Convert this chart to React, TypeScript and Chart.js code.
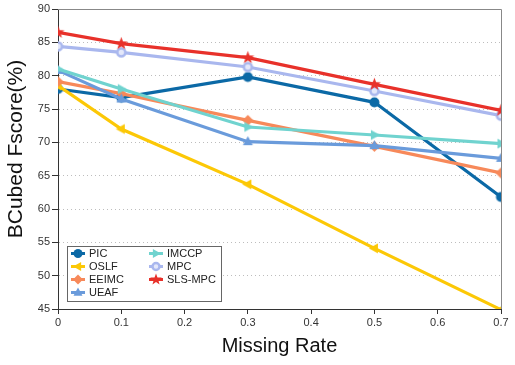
import React, { useEffect, useRef } from "react";
import { Chart, registerables } from "chart.js";

Chart.register(...registerables);

const missingRates = [0, 0.1, 0.3, 0.5, 0.7];
const seriesNames = ["PIC", "OSLF", "EEIMC", "UEAF", "IMCCP", "MPC", "SLS-MPC"];
const picValues = [78.0, 76.7, 79.8, 76.0, 61.8];
const oslfValues = [78.5, 72.0, 63.7, 54.1, 44.9];
const eeimcValues = [79.1, 77.3, 73.3, 69.4, 65.4];
const ueafValues = [80.8, 76.5, 70.1, 69.5, 67.6];
const imccpValues = [81.0, 78.0, 72.3, 71.1, 69.8];
const mpcValues = [84.4, 83.5, 81.3, 77.7, 74.0];
const slsMpcValues = [86.5, 84.8, 82.7, 78.7, 74.8];
const xTicks = [0, 0.1, 0.2, 0.3, 0.4, 0.5, 0.6, 0.7];
const yTicks = [45, 50, 55, 60, 65, 70, 75, 80, 85, 90];
const xTitle = "Missing Rate";
const yTitle = "BCubed Fscore(%)";

const allValues = [picValues, oslfValues, eeimcValues, ueafValues, imccpValues, mpcValues, slsMpcValues];
const colors = ["#0b69a6", "#fcc806", "#f7895a", "#6a9bdb", "#70d3cf", "#a9b7ee", "#e8312a"];
const shapes = ["circle", "triLeft", "diamond", "triUp", "triRight", "ring", "star"];

const FONT = "'Liberation Sans', Arial, Helvetica, sans-serif";

function drawMarker(ctx: CanvasRenderingContext2D, shape: string, x: number, y: number, r: number, color: string) {
  ctx.save();
  ctx.fillStyle = color;
  ctx.strokeStyle = color;
  ctx.beginPath();
  if (shape === "circle") {
    ctx.arc(x, y, r, 0, Math.PI * 2);
    ctx.fill();
  } else if (shape === "ring") {
    ctx.arc(x, y, r - 1, 0, Math.PI * 2);
    ctx.fillStyle = "#e4e8fa";
    ctx.fill();
    ctx.lineWidth = 2.5;
    ctx.stroke();
  } else if (shape === "diamond") {
    ctx.moveTo(x, y - r * 1.1);
    ctx.lineTo(x + r * 1.1, y);
    ctx.lineTo(x, y + r * 1.1);
    ctx.lineTo(x - r * 1.1, y);
    ctx.closePath();
    ctx.fill();
  } else if (shape === "triUp") {
    ctx.moveTo(x, y - r * 1.1);
    ctx.lineTo(x + r, y + r * 0.7);
    ctx.lineTo(x - r, y + r * 0.7);
    ctx.closePath();
    ctx.fill();
  } else if (shape === "triLeft") {
    ctx.moveTo(x - r * 1.1, y);
    ctx.lineTo(x + r * 0.7, y - r);
    ctx.lineTo(x + r * 0.7, y + r);
    ctx.closePath();
    ctx.fill();
  } else if (shape === "triRight") {
    ctx.moveTo(x + r * 1.1, y);
    ctx.lineTo(x - r * 0.7, y - r);
    ctx.lineTo(x - r * 0.7, y + r);
    ctx.closePath();
    ctx.fill();
  } else if (shape === "star") {
    const outer = r * 1.35;
    const inner = r * 0.55;
    for (let i = 0; i < 10; i++) {
      const rad = i % 2 === 0 ? outer : inner;
      const a = -Math.PI / 2 + (i * Math.PI) / 5;
      const px = x + rad * Math.cos(a);
      const py = y + rad * Math.sin(a);
      if (i === 0) ctx.moveTo(px, py);
      else ctx.lineTo(px, py);
    }
    ctx.closePath();
    ctx.fill();
  }
  ctx.restore();
}

function makeMarkerCanvas(shape: string, color: string, r: number): HTMLCanvasElement {
  const size = Math.ceil(r * 3) + 2;
  const c = document.createElement("canvas");
  c.width = size;
  c.height = size;
  const ctx = c.getContext("2d")!;
  drawMarker(ctx, shape, size / 2, size / 2, r, color);
  return c;
}

const frameAndLegend = {
  id: "frameAndLegend",
  afterDatasetsDraw(chart: any) {
    const { ctx, chartArea } = chart;
    ctx.save();
    ctx.strokeStyle = "#888";
    ctx.lineWidth = 1;
    ctx.beginPath();
    ctx.moveTo(chartArea.left, chartArea.top + 0.5);
    ctx.lineTo(chartArea.right + 0.5, chartArea.top + 0.5);
    ctx.lineTo(chartArea.right + 0.5, chartArea.bottom);
    ctx.stroke();

    // axis titles
    ctx.fillStyle = "#111";
    ctx.textAlign = "center";
    ctx.textBaseline = "middle";
    ctx.font = `20px ${FONT}`;
    ctx.fillText(xTitle, (chartArea.left + chartArea.right) / 2, 346);
    ctx.save();
    ctx.translate(16, 149);
    ctx.rotate(-Math.PI / 2);
    ctx.font = `21px ${FONT}`;
    ctx.fillText(yTitle, 0, 0);
    ctx.restore();

    // legend box
    const bx = 67.5, by = 246.5, bw = 154, bh = 55;
    ctx.fillStyle = "#fff";
    ctx.fillRect(bx, by, bw, bh);
    ctx.strokeStyle = "#666";
    ctx.strokeRect(bx, by, bw, bh);
    ctx.font = `11px ${FONT}`;
    ctx.textBaseline = "middle";
    ctx.textAlign = "left";
    const rowsY = [253.5, 266.5, 279.5, 292.5];
    seriesNames.forEach((name, i) => {
      const col = i < 4 ? 0 : 1;
      const row = i < 4 ? i : i - 4;
      const mx = col === 0 ? 78 : 156;
      const my = rowsY[row];
      ctx.strokeStyle = colors[i];
      ctx.lineWidth = 3;
      ctx.beginPath();
      ctx.moveTo(mx - 7, my);
      ctx.lineTo(mx + 7, my);
      ctx.stroke();
      drawMarker(ctx, shapes[i], mx, my, 4.5, colors[i]);
      ctx.fillStyle = "#222";
      ctx.fillText(name, mx + 11, my + 0.5);
    });
    ctx.restore();
  },
};

export default function App() {
  const canvasRef = useRef<HTMLCanvasElement | null>(null);

  useEffect(() => {
    if (!canvasRef.current) return;
    const datasets = seriesNames.map((name, i) => ({
      label: name,
      data: missingRates.map((x, j) => ({ x, y: allValues[i][j] })),
      borderColor: colors[i],
      backgroundColor: colors[i],
      borderWidth: 3.2,
      pointStyle: makeMarkerCanvas(shapes[i], colors[i], 5),
      pointRadius: 5,
      order: 6 - i,
      tension: 0,
    }));
    const chart = new Chart(canvasRef.current, {
      type: "line",
      data: { datasets },
      plugins: [frameAndLegend],
      options: {
        animation: false,
        responsive: false,
        devicePixelRatio: 1,
        layout: { padding: { top: 9, right: 14, left: 0, bottom: 0 } },
        plugins: { legend: { display: false }, tooltip: { enabled: false } },
        scales: {
          x: {
            type: "linear",
            min: 0,
            max: 0.7,
            afterFit: (s: any) => {
              s.height = 56;
            },
            afterBuildTicks: (s: any) => {
              s.ticks = xTicks.map((v) => ({ value: v }));
            },
            ticks: {
              color: "#333",
              font: { size: 11, family: FONT },
              padding: 2,
              maxRotation: 0,
              callback: (v: any) => (Number(v) === 0 ? "0" : Number(v).toFixed(1)),
            },
            grid: { drawOnChartArea: false, tickLength: 5, tickColor: "#333", color: "#333" },
            border: { color: "#333", width: 1 },
          },
          y: {
            min: 45,
            max: 90,
            afterFit: (s: any) => {
              s.width = 58;
            },
            afterBuildTicks: (s: any) => {
              s.ticks = yTicks.map((v) => ({ value: v }));
            },
            ticks: {
              color: "#333",
              font: { size: 11, family: FONT },
              padding: 2,
            },
            grid: { color: "#bdbdbd", tickLength: 6, tickColor: "#333", lineWidth: 1 },
            border: { color: "#333", width: 1, dash: [1, 3] },
          },
        },
      },
    } as any);
    return () => chart.destroy();
  }, []);

  return (
    <div style={{ position: "fixed", left: 0, top: 0, width: 515, height: 365, background: "#fff" }}>
      <canvas ref={canvasRef} width={515} height={365} style={{ width: 515, height: 365 }} />
    </div>
  );
}
